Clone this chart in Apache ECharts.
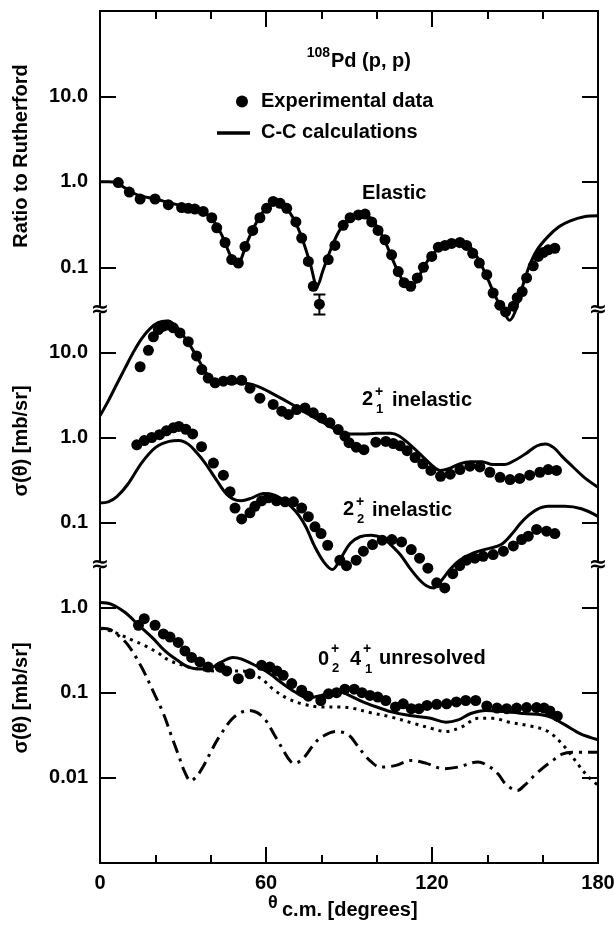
<!DOCTYPE html>
<html><head><meta charset="utf-8">
<script src="https://cdn.jsdelivr.net/npm/echarts@6/dist/echarts.min.js"></script>
<style>html,body{margin:0;padding:0;background:#fff}#c{width:614px;height:926px}</style>
</head><body><div id="c"></div>
<script>
// ---------- data (theta in degrees, value) ----------
const xTickValues = [0, 60, 120, 180];
const xTickLabels = ['0', '60', '120', '180'];
const yTicksTop = [0.1, 1, 10];
const yLabelsTop = ['0.1', '1.0', '10.0'];
const yTicksMid = [0.1, 1, 10];
const yLabelsMid = ['0.1', '1.0', '10.0'];
const yTicksBot = [0.01, 0.1, 1];
const yLabelsBot = ['0.01', '0.1', '1.0'];

const elasticExp = [[6.6,0.98],[10.6,0.76],[14.5,0.63],[19.9,0.63],[24.7,0.54],[29.5,0.50],[31.9,0.49],[34.3,0.48],[37.3,0.45],[40.4,0.38],[42.2,0.29],[45.2,0.195],[47.6,0.123],[50.0,0.112],[52.4,0.175],[55.2,0.27],[57.8,0.38],[60.2,0.49],[62.6,0.59],[65.1,0.56],[67.5,0.49],[70.8,0.34],[72.9,0.22],[75.3,0.117],[77.1,0.06],[79.3,0.037],[82.5,0.123],[84.9,0.18],[87.9,0.31],[90.4,0.38],[93.4,0.41],[95.8,0.42],[98.2,0.34],[100.5,0.27],[103,0.21],[105.4,0.14],[107.8,0.089],[109.9,0.066],[112.3,0.06],[114.7,0.075],[116.9,0.10],[119.9,0.134],[122.3,0.172],[124.7,0.18],[127.1,0.19],[130.1,0.195],[132.5,0.18],[134.7,0.146],[137.1,0.112],[139.8,0.082],[142.1,0.05],[144.5,0.036],[146.6,0.030],[149.4,0.035],[150.8,0.044],[152.6,0.052],[154.2,0.075],[156.6,0.104],[158.4,0.134],[160.2,0.149],[162,0.16],[164.4,0.167]];
const elasticErr = [[79.3, 0.028, 0.048]];
const elasticCalc = [[0,1.0],[3,1.0],[6,0.97],[9,0.85],[12,0.74],[15,0.68],[20,0.63],[25,0.57],[30,0.52],[35,0.47],[38,0.43],[41,0.35],[44,0.24],[47,0.14],[49,0.11],[50.5,0.115],[53,0.19],[56,0.31],[59,0.45],[62,0.56],[64,0.57],[67,0.5],[70,0.37],[73,0.22],[76,0.11],[78.5,0.06],[80.5,0.09],[83,0.15],[86,0.25],[89,0.35],[92,0.41],[95,0.42],[98,0.37],[101,0.27],[104,0.17],[107,0.1],[110,0.065],[112,0.06],[114,0.066],[117,0.1],[120,0.14],[124,0.18],[128,0.2],[131,0.2],[134,0.17],[137,0.12],[140,0.075],[143,0.045],[146,0.03],[148,0.024],[150,0.03],[152,0.05],[155,0.1],[158,0.16],[162,0.23],[166,0.3],[170,0.35],[175,0.39],[180,0.4]];

const in21Exp = [[14.5,6.8],[17.5,10.6],[19.3,15.3],[21.1,18.6],[22.9,20.4],[24.7,21],[26.5,19.5],[28.9,17],[31.9,13.4],[34.9,9.1],[36.8,6.3],[39.1,5.0],[41.6,4.4],[44.6,4.6],[47.6,4.7],[51.2,4.7],[54.2,3.8],[57.8,2.9],[62.6,2.45],[65.7,2.04],[68.1,1.87],[71.1,2.13],[74.1,2.23],[77.1,1.95],[80.1,1.70],[83.1,1.49],[86.1,1.24],[88.5,1.04],[90,0.87],[92.6,0.77],[95.4,0.72],[99.7,0.88],[103.3,0.9],[106,0.85],[108.5,0.8],[111,0.7],[113.9,0.58],[116.7,0.49],[119.6,0.41],[123.1,0.35],[126.6,0.37],[130.1,0.42],[133.7,0.46],[137.3,0.45],[140.9,0.39],[144.6,0.34],[148.2,0.32],[151.7,0.33],[155.3,0.36],[159,0.39],[162,0.42],[165,0.41]];
const in21Calc = [[0,1.8],[3,2.7],[6,4.2],[9,6.5],[12,10],[15,14.5],[18,19],[21,22.4],[24,23.4],[27,21],[30,16],[33,11.5],[36,7.8],[39,5.4],[42,4.6],[46,4.4],[51,4.4],[57,4.0],[63,3.2],[69,2.5],[75,1.9],[80,1.55],[85,1.25],[88,1.12],[90,1.1],[95,1.1],[100,1.12],[105,1.12],[108,1.05],[111,0.88],[114,0.72],[117,0.58],[120,0.47],[123,0.41],[126,0.43],[130,0.49],[134,0.52],[138,0.52],[142,0.48],[146,0.48],[150,0.54],[154,0.65],[158,0.8],[161,0.84],[164,0.76],[167,0.6],[171,0.45],[175,0.34],[180,0.26]];

const in22Exp = [[13.3,0.82],[16,0.92],[18.7,1.0],[21.5,1.08],[24,1.2],[26.5,1.3],[28.5,1.35],[31,1.25],[33.5,1.1],[36.7,0.78],[41,0.50],[44.6,0.36],[47,0.23],[48.8,0.148],[51.2,0.11],[54.2,0.13],[56,0.155],[58.4,0.18],[60.8,0.195],[63.8,0.18],[66.9,0.175],[69.9,0.175],[72.9,0.148],[75.3,0.117],[77.7,0.089],[79.9,0.074],[82.3,0.054],[86.7,0.036],[89.1,0.031],[92.6,0.036],[95.2,0.046],[98.5,0.055],[102,0.062],[105.5,0.063],[109,0.059],[112.5,0.048],[115.5,0.038],[118.5,0.029],[121.7,0.0195],[124.6,0.017],[127.5,0.025],[130,0.031],[132.5,0.036],[135.5,0.038],[138.5,0.040],[142.1,0.042],[145.8,0.046],[149.4,0.053],[152.4,0.063],[154.8,0.069],[157.8,0.083],[161.4,0.079],[164.4,0.074]];
const in22Calc = [[0,0.17],[3,0.175],[6,0.2],[10,0.28],[15,0.5],[20,0.76],[25,0.9],[28.5,0.92],[32,0.83],[35,0.66],[38,0.5],[42,0.32],[45.5,0.22],[48,0.19],[51,0.18],[55,0.195],[59,0.22],[62,0.215],[65,0.195],[69,0.155],[72,0.12],[74.5,0.088],[77.5,0.053],[81,0.034],[84,0.028],[87,0.038],[90.5,0.057],[94,0.068],[98,0.071],[102,0.066],[105,0.055],[108.5,0.042],[112,0.029],[115,0.022],[118,0.018],[120.5,0.017],[123,0.02],[126.5,0.028],[130,0.036],[135,0.044],[140,0.049],[145,0.055],[149,0.074],[152,0.098],[155,0.122],[158,0.143],[162,0.155],[168,0.155],[174,0.145],[180,0.118]];

const unresExp = [[13.9,0.62],[16,0.74],[19.9,0.62],[22.9,0.49],[25.3,0.45],[28.3,0.39],[30.7,0.31],[33.1,0.26],[36.1,0.23],[39.1,0.20],[43.4,0.20],[45.8,0.18],[50,0.146],[54.2,0.167],[58.4,0.21],[61.4,0.20],[63.9,0.18],[66.2,0.16],[69.3,0.128],[72.9,0.107],[75.3,0.091],[79.8,0.081],[82.6,0.097],[85.5,0.10],[88.5,0.11],[91.9,0.11],[94.7,0.10],[97.6,0.093],[100.4,0.089],[103.3,0.081],[106.8,0.068],[109.6,0.074],[112.5,0.065],[115.3,0.065],[118.2,0.071],[121.7,0.073],[125.3,0.074],[128.8,0.078],[132.2,0.081],[135.8,0.081],[139.8,0.07],[143.5,0.066],[147,0.065],[150.6,0.066],[154.2,0.067],[157.8,0.067],[160.5,0.066],[162.6,0.061],[165.3,0.053]];
const unresCalcTotal = [[0,1.15],[4,1.1],[9,0.88],[14,0.62],[19,0.44],[23.5,0.31],[28,0.24],[32,0.2],[36,0.19],[40,0.195],[44,0.23],[48,0.26],[51,0.25],[56,0.21],[61,0.17],[66,0.128],[70.5,0.102],[75,0.087],[80,0.093],[85.5,0.105],[88,0.1],[94,0.081],[100,0.068],[105,0.06],[112,0.054],[119.5,0.05],[125,0.045],[129.5,0.048],[134,0.057],[139.5,0.062],[146,0.06],[153,0.057],[162,0.053],[167.5,0.043],[173.5,0.033],[180,0.028]];
const unresCalcDotted = [[0,0.57],[4,0.53],[8,0.47],[12,0.41],[16,0.36],[20.5,0.30],[25,0.24],[30,0.21],[35.5,0.19],[42,0.18],[51,0.18],[58,0.148],[63,0.107],[68,0.085],[73,0.074],[80,0.068],[87,0.068],[91,0.066],[98,0.058],[105,0.052],[114,0.043],[120,0.038],[125,0.035],[131,0.040],[136.5,0.05],[142,0.05],[148,0.045],[155,0.041],[162,0.035],[168,0.023],[173.5,0.0134],[176.5,0.0103],[180,0.0082]];
const unresCalcDashDot = [[0,0.57],[3,0.56],[6,0.49],[10.2,0.36],[15,0.2],[19.9,0.093],[22.9,0.057],[26,0.03],[28.5,0.018],[30.5,0.012],[32.8,0.0092],[35,0.0105],[37.2,0.0134],[40,0.02],[43,0.03],[48.5,0.052],[54,0.062],[57,0.058],[60,0.047],[63,0.032],[65.6,0.023],[68,0.017],[70,0.0148],[72,0.0155],[74,0.0177],[77,0.024],[80,0.03],[85.5,0.035],[89.8,0.032],[93,0.024],[95.4,0.019],[98,0.0155],[101,0.0134],[104,0.0135],[107,0.014],[112.5,0.016],[118,0.0148],[124,0.0128],[129.5,0.0134],[136.6,0.0154],[140.9,0.0134],[144,0.011],[146.6,0.0085],[150.8,0.0071],[153.5,0.0082],[156.5,0.0103],[160,0.013],[163.6,0.016],[167,0.019],[170.7,0.02],[180,0.02]];

// ---------- layout / style ----------
const FONT = 'Liberation Sans';
const INK = '#000';
const LEFT = 100, RIGHT_PAD = 16, RIGHT_X = 614 - 16;
const panels = [
  { top: 11, height: 299, min: Math.pow(10, -1.5), max: 100, ticks: yTicksTop, labels: yLabelsTop },
  { top: 310, height: 255, min: Math.pow(10, -1.5), max: Math.pow(10, 1.5), ticks: yTicksMid, labels: yLabelsMid },
  { top: 565, height: 298, min: 0.001, max: Math.pow(10, 0.5), ticks: yTicksBot, labels: yLabelsBot }
];

function logLabelFor(vals, labels) {
  return function (v) {
    for (let i = 0; i < vals.length; i++) {
      if (Math.abs(Math.log10(v) - Math.log10(vals[i])) < 0.01) return labels[i];
    }
    return '';
  };
}
function linLabelFor(vals, labels) {
  return function (v) {
    for (let i = 0; i < vals.length; i++) if (Math.abs(v - vals[i]) < 1e-6) return labels[i];
    return '';
  };
}

const axisLineStyle = { color: INK, width: 2 };
const grids = panels.map(p => ({ left: LEFT, right: RIGHT_PAD, top: p.top, height: p.height,
                                 containLabel: false, outerBoundsMode: 'none' }));

const xAxes = panels.map((p, i) => ({
  gridIndex: i, type: 'value', min: 0, max: 180, interval: 60,
  show: i !== 1,
  position: i === 0 ? 'top' : 'bottom',
  axisLine: { show: true, onZero: false, lineStyle: axisLineStyle },
  axisTick: { show: true, inside: true, length: 16, lineStyle: axisLineStyle },
  minorTick: { show: true, splitNumber: 3, length: 8, lineStyle: axisLineStyle },
  splitLine: { show: false }, minorSplitLine: { show: false },
  axisLabel: { show: i === 2, color: INK, fontFamily: FONT, fontWeight: 'bold', fontSize: 20, margin: 10,
               formatter: linLabelFor(xTickValues, xTickLabels) }
}));

const yAxes = [];
panels.forEach((p, i) => {
  ['left', 'right'].forEach(side => {
    yAxes.push({
      gridIndex: i, type: 'log', logBase: 10, min: p.min, max: p.max, position: side,
      axisLine: { show: true, onZero: false, lineStyle: axisLineStyle },
      axisTick: { show: true, inside: true, length: 16, lineStyle: axisLineStyle, customValues: p.ticks },
      minorTick: { show: false },
      splitLine: { show: false },
      axisLabel: { show: side === 'left', customValues: p.ticks, color: INK, fontFamily: FONT, fontWeight: 'bold',
                   fontSize: 20, margin: 12, formatter: logLabelFor(p.ticks, p.labels) }
    });
  });
});

function scatter(data, i) {
  return { type: 'scatter', data, xAxisIndex: i, yAxisIndex: 2 * i, symbol: 'circle', symbolSize: 11,
           itemStyle: { color: INK, opacity: 1 }, z: 5, clip: false, silent: true };
}
function line(data, i, dash) {
  return { type: 'line', data, xAxisIndex: i, yAxisIndex: 2 * i, showSymbol: false, symbol: 'none',
           smooth: 0.35, clip: false, silent: true, z: 3,
           lineStyle: { color: INK, width: 3, type: dash || 'solid' } };
}

const series = [
  line(elasticCalc, 0),
  scatter(elasticExp, 0),
  {
    type: 'custom', xAxisIndex: 0, yAxisIndex: 0, data: elasticErr, clip: false, z: 6, silent: true,
    renderItem: function (params, api) {
      const x = api.value(0);
      const lo = api.coord([x, api.value(1)]);
      const hi = api.coord([x, api.value(2)]);
      const st = { stroke: INK, lineWidth: 2 };
      return { type: 'group', children: [
        { type: 'line', shape: { x1: lo[0], y1: lo[1], x2: hi[0], y2: hi[1] }, style: st },
        { type: 'line', shape: { x1: lo[0] - 6, y1: lo[1], x2: lo[0] + 6, y2: lo[1] }, style: st },
        { type: 'line', shape: { x1: hi[0] - 6, y1: hi[1], x2: hi[0] + 6, y2: hi[1] }, style: st }
      ] };
    }
  },
  line(in21Calc, 1),
  scatter(in21Exp, 1),
  line(in22Calc, 1),
  scatter(in22Exp, 1),
  line(unresCalcTotal, 2),
  line(unresCalcDotted, 2, [3, 5]),
  line(unresCalcDashDot, 2, [13, 6, 3, 6]),
  scatter(unresExp, 2)
];

function txt(x, y, text, size, opts) {
  opts = opts || {};
  const align = opts.align || 'left';
  return {
    type: 'text', x, y, z: 100, silent: true, rotation: opts.rotation || 0,
    style: { text, fill: INK, fontFamily: FONT, fontWeight: 'bold', fontSize: size || 20,
             align, verticalAlign: 'middle', textAlign: align, textVerticalAlign: 'middle' }
  };
}

const breakMarks = [];
[310, 565].forEach(y => {
  [LEFT, RIGHT_X].forEach(x => {
    breakMarks.push({ type: 'rect', shape: { x: x - 4, y: y - 3, width: 8, height: 6 }, style: { fill: '#fff' }, z: 90, silent: true });
    breakMarks.push({ type: 'text', x: x, y: y, z: 91, silent: true,
      style: { text: '≈', fill: INK, fontFamily: 'DejaVu Sans', fontWeight: 'bold', fontSize: 22,
               align: 'center', verticalAlign: 'middle', textAlign: 'center', textVerticalAlign: 'middle' } });
  });
});

const graphics = [
  // title
  txt(330, 53, '108', 14, { align: 'right' }),
  txt(331, 61, 'Pd (p, p)', 20),
  // legend
  { type: 'circle', shape: { cx: 242, cy: 101.5, r: 6 }, style: { fill: INK }, z: 100, silent: true },
  txt(261, 101.5, 'Experimental data', 20),
  { type: 'line', shape: { x1: 217, y1: 133, x2: 250, y2: 133 }, style: { stroke: INK, lineWidth: 3.5 }, z: 100, silent: true },
  txt(261, 132.5, 'C-C calculations', 20),
  // annotations
  txt(362, 193, 'Elastic', 20),
  txt(362, 399, '2', 20), txt(375, 392, '+', 14), txt(376, 409, '1', 13), txt(392, 400, 'inelastic', 20),
  txt(343, 509, '2', 20), txt(356, 502, '+', 14), txt(357, 519, '2', 13), txt(372, 510, 'inelastic', 20),
  txt(318, 659, '0', 20), txt(331, 649, '+', 14), txt(332, 668, '2', 13),
  txt(350, 659, '4', 20), txt(363, 649, '+', 14), txt(365, 669, '1', 13), txt(379, 658, 'unresolved', 20),
  // axis titles
  txt(21, 156, 'Ratio to Rutherford', 20, { align: 'center', rotation: Math.PI / 2 }),
  txt(21, 441, 'σ(θ) [mb/sr]', 20, { align: 'center', rotation: Math.PI / 2 }),
  txt(21, 698, 'σ(θ) [mb/sr]', 20, { align: 'center', rotation: Math.PI / 2 }),
  txt(268, 903, 'θ', 18),
  txt(282, 910, 'c.m. [degrees]', 20)
].concat(breakMarks);

const chart = echarts.init(document.getElementById('c'), null, { renderer: 'canvas' });
chart.setOption({
  backgroundColor: '#fff',
  animation: false,
  grid: grids,
  xAxis: xAxes,
  yAxis: yAxes,
  series: series,
  graphic: { elements: graphics }
});
</script>
</body></html>
